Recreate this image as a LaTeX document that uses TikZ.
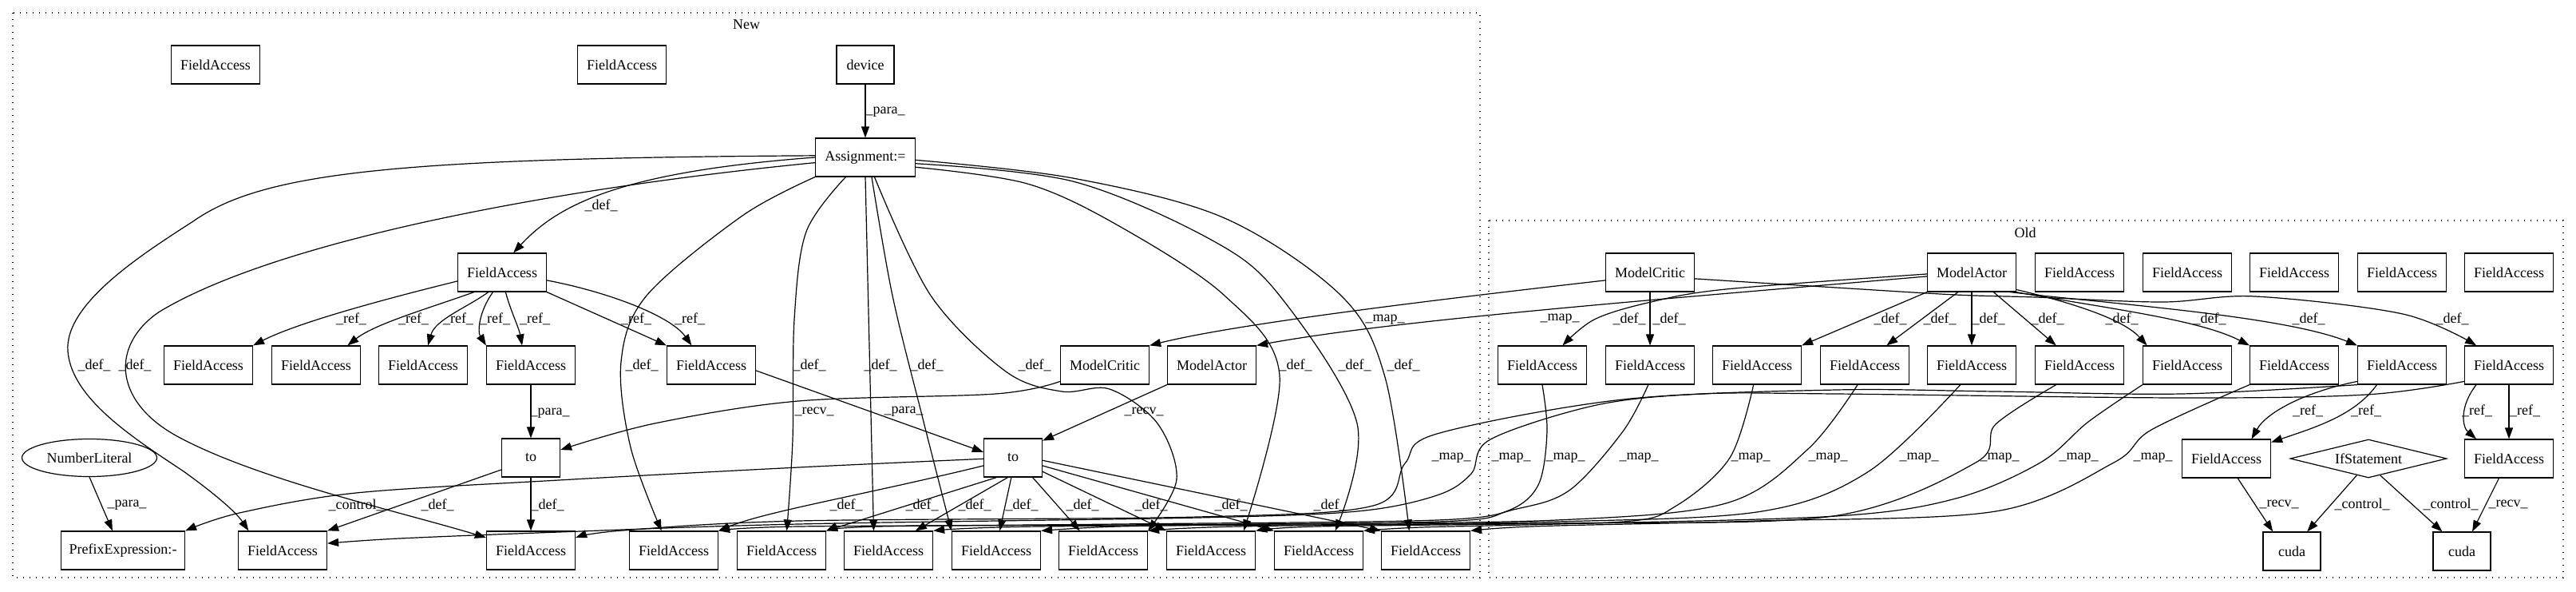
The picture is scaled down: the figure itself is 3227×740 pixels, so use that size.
\documentclass[tikz,border=0pt]{standalone}
\usepackage{fontspec}
\setmainfont{Liberation Serif}
\usetikzlibrary{arrows.meta,shapes.geometric}
\newcommand\gfont{\fontsize{18}{20}\selectfont}
\newcommand\Ldef{\_def\_}
\newcommand\Lref{\_ref\_}
\newcommand\Lmap{\_map\_}
\newcommand\Lpara{\_para\_}
\newcommand\Lrecv{\_recv\_}
\newcommand\Lctrl{\_control\_}
\begin{document}
\begin{tikzpicture}[x=1pt,y=-1pt,
 every node/.style={font=\gfont},
 box/.style={draw,line width=1.2pt,rectangle,minimum width=111pt,minimum height=48pt,inner sep=0pt},
 edg/.style={draw,line width=1.2pt,-{Triangle[length=14pt,width=10pt]}},
 lab/.style={inner sep=0pt},
 clus/.style={draw,line width=1.2pt,dash pattern=on 1.4pt off 6.6pt},
 sm/.style={smooth,tension=0.55}]
\fill[white] (0,0) rectangle (3227,740);
\useasboundingbox (0,0) rectangle (3227,740);
% clusters
\draw[clus] (16,16) rectangle (1854,723);
\node (tnew) at (935,31) {New};
\draw[clus] (1865,276) rectangle (3211,723);
\node (told) at (2537,291) {Old};
% New nodes
\node[box] (nfa1) at (270,81) {FieldAccess};
\node[box] (nfa2) at (779,81) {FieldAccess};
\node[box,minimum width=72pt] (device) at (1084,81) {device};
\node[box,minimum width=125pt] (assign) at (1084,197) {Assignment:=};
\node[box] (hub) at (629,341) {FieldAccess};
\node[box] (r1) at (261,457) {FieldAccess};
\node[box] (r2) at (396,457) {FieldAccess};
\node[box] (r3) at (530,457) {FieldAccess};
\node[box] (r4) at (665,457) {FieldAccess};
\node[box] (r5) at (891,457) {FieldAccess};
\node[box] (mcn) at (1384,457) {ModelCritic};
\node[box] (man) at (1518,457) {ModelActor};
\node[box,minimum width=73pt] (tos) at (665,573) {to};
\node[box,minimum width=73pt] (tob) at (1269,573) {to};
\node[draw,line width=1.2pt,ellipse,minimum width=169pt,minimum height=47pt,inner sep=0pt] (numlit) at (112,573) {NumberLiteral};
\node[box,minimum width=155pt] (prefix) at (154,689) {PrefixExpression:-};
\node[box] (b1) at (354,689) {FieldAccess};
\node[box] (b2) at (665,689) {FieldAccess};
\node[box] (b3) at (844,689) {FieldAccess};
\node[box] (b4) at (979,689) {FieldAccess};
\node[box] (b5) at (1113,689) {FieldAccess};
\node[box] (b6) at (1248,689) {FieldAccess};
\node[box] (b7) at (1382,689) {FieldAccess};
\node[box] (b8) at (1517,689) {FieldAccess};
\node[box] (b9) at (1652,689) {FieldAccess};
\node[box] (b10) at (1786,689) {FieldAccess};
% Old nodes
\node[box] (mco) at (2067,341) {ModelCritic};
\node[box] (mao) at (2470,341) {ModelActor};
\foreach \x [count=\i] in {2605,2740,2874,3009,3143} \node[box] (ot\i) at (\x,341) {FieldAccess};
\foreach \x [count=\i] in {1932,2067,2201,2336,2470,2605,2740,2874,3009,3143} \node[box] (o\i) at (\x,457) {FieldAccess};
\node[box] (ofa3a) at (2789,574) {FieldAccess};
\node[draw,line width=1.2pt,diamond,aspect=4,minimum width=196pt,minimum height=48pt,inner sep=0pt] (ifst) at (2967,574) {IfStatement};
\node[box] (ofa3b) at (3143,574) {FieldAccess};
\node[box,minimum width=72pt] (cuda1) at (2871,690) {cuda};
\node[box,minimum width=72pt] (cuda2) at (3084,690) {cuda};
% New edges
\draw[edg] (device) -- (assign);
\draw[edg] (assign.west) .. controls (780,215) and (700,255) .. (hub.60);
\draw[edg] (assign.178) .. controls (500,198) and (330,215) .. (242,277) .. controls (180,317) and (80,380) .. (85,440) .. controls (90,500) and (170,550) .. (230,590) .. controls (265,615) and (295,640) .. (b1.150);
\draw[edg] (assign.186) .. controls (700,235) and (350,300) .. (200,390) .. controls (140,430) and (140,500) .. (220,545) .. controls (320,600) and (500,640) .. (b2.164);
\draw[edg] plot[sm] coordinates {(assign.south west) (930,270) (810,370) (778,453) (790,560) (b3.122)};
\draw[edg] plot[sm] coordinates {(assign.225) (1010,290) (995,400) (993,550) (b4.75)};
\draw[edg] (assign.south) -- (b5.127);
\draw[edg] plot[sm] coordinates {(assign.288) (1118,370) (1155,520) (b6.north west)};
\draw[edg] plot[sm] coordinates {(assign.295) (1166,370) (1260,465) (1330,490) (1390,487) (1450,530) (1474,600) (b7.north east)};
\draw[edg] plot[sm] coordinates {(assign.349) (1287,230) (1402,283) (1534,370) (1603,470) (b8.31)};
\draw[edg] plot[sm] coordinates {(assign.353) (1344,227) (1517,300) (1603,370) (1700,530) (b9.50)};
\draw[edg] plot[sm] coordinates {(assign.357) (1344,223) (1534,273) (1680,370) (1735,472) (b10.130)};
\draw[edg] (hub.191) .. controls (520,365) and (380,400) .. (r1.north east);
\draw[edg] (hub.215) .. controls (540,385) and (470,405) .. (r2.32);
\draw[edg] (hub.235) .. controls (585,385) and (545,400) .. (r3.76);
\draw[edg] (hub.245) .. controls (600,390) and (598,415) .. (r4.north west);
\draw[edg] (hub.280) .. controls (640,390) and (650,410) .. (r4.114);
\draw[edg] (hub.south east) -- (r5.north west);
\draw[edg] (hub.350) .. controls (760,365) and (840,395) .. (r5.135);
\draw[edg] (r4) -- (tos);
\draw[edg] (r5.353) -- (tob.169);
\draw[edg] plot[sm] coordinates {(mcn.200) (1247,493) (1000,502) (820,530) (tos.15)};
\draw[edg] (man.south west) -- (tob.30);
\draw[edg] (numlit.south) -- (prefix.118);
\draw[edg] (tos.202) -- (b1.north east);
\draw[edg] (tos) -- (b2);
\draw[edg] plot[sm] coordinates {(tob.182) (1000,585) (700,601) (446,617) (300,642) (prefix.north east)};
\draw[edg] (tob.195) .. controls (1080,620) and (960,640) .. (b3.north east);
\draw[edg] (tob.230) -- (b4.north east);
\draw[edg] (tob.255) -- (b5.36);
\draw[edg] (tob.265) -- (b6.80);
\draw[edg] (tob.315) -- (b7.140);
\draw[edg] (tob.335) -- (b8.north west);
\draw[edg] (tob.345) -- (b9.north west);
\draw[edg] (tob.355) -- (b10.north west);
% Old edges
\draw[edg] (mco.190) .. controls (1800,375) and (1550,405) .. (mcn.north east);
\draw[edg] (mao.185) .. controls (2100,373) and (1750,400) .. (man.north east);
\draw[edg] plot[sm] coordinates {(mao.182) (2162,362) (2064,379) (1997,400) (o1.44)};
\draw[edg] (mco) -- (o2);
\draw[edg] (mao.south west) -- (o3.north east);
\draw[edg] (mao.235) -- (o4.42);
\draw[edg] (mao) -- (o5);
\draw[edg] (mao.318) -- (o6.140);
\draw[edg] (mao.339) .. controls (2600,380) and (2660,400) .. (o7.154);
\draw[edg] (mao.336) .. controls (2640,386) and (2755,400) .. (o8.north west);
\draw[edg] (mao.333) .. controls (2640,380) and (2860,395) .. (o9.north west);
\draw[edg] plot[sm] coordinates {(mco.352) (2300,360) (2450,369) (2550,372) (2709,378) (2825,371) (3010,393) (o10.149)};
\draw[edg] (o9.200) .. controls (2890,490) and (2840,515) .. (ofa3a.38);
\draw[edg] (o9.218) .. controls (2950,520) and (2900,535) .. (ofa3a.20);
\draw[edg] (o10.211) .. controls (3080,510) and (3085,535) .. (ofa3b.149);
\draw[edg] (o10) -- (ofa3b);
\draw[edg] (ofa3a.300) -- (cuda1.134);
\draw[edg] (ifst.235) -- (cuda1.52);
\draw[edg] (ifst.305) -- (cuda2.135);
\draw[edg] (ofa3b.243) -- (cuda2.62);
% map edges Old -> New
\draw[edg] plot[sm] coordinates {(o1.south) (1938,540) (1927,607) (1887,640) (1800,653) (1400,657) (1000,659) (b3.north east)};
\draw[edg] plot[sm] coordinates {(o2.265) (2033,540) (1967,613) (1900,637) (1800,651) (1400,656) (1100,659) (b4.north east)};
\draw[edg] plot[sm] coordinates {(o3.260) (2167,573) (2100,633) (2033,653) (1800,656) (1300,659) (b5.north east)};
\draw[edg] plot[sm] coordinates {(o4.250) (2265,562) (2162,630) (1950,651) (1600,656) (1400,659) (b6.north east)};
\draw[edg] plot[sm] coordinates {(o5.240) (2341,590) (2207,640) (1950,653) (1550,659) (b7.north east)};
\draw[edg] plot[sm] coordinates {(o6.220) (2500,531) (2475,579) (2296,646) (1950,655) (1650,659) (b8.north east)};
\draw[edg] plot[sm] coordinates {(o7.south west) (2616,528) (2556,579) (2450,624) (2300,646) (1950,656) (1780,660) (b9.north east)};
\draw[edg] plot[sm] coordinates {(o8.south west) (2695,538) (2648,579) (2500,640) (2200,652) (1950,658) (1880,661) (b10.north east)};
\draw[edg] plot[sm] coordinates {(o9.south west) (2732,493) (2500,490) (2300,488) (2033,500) (1800,543) (1760,580) (1720,633) (1500,647) (1000,652) (780,664) (b2.16)};
\draw[edg] plot[sm] coordinates {(o10.200) (2964,494) (2732,498) (2300,493) (2133,493) (2000,507) (1867,550) (1843,593) (1800,620) (1700,640) (1500,648) (1000,656) (700,666) (500,674) (b1.9)};
% labels
\foreach \x/\y/\t [count=\i] in {
 1109/140/\Lpara, 753/257/\Ldef,
 118/457/\Ldef, 169/457/\Ldef, 804/457/\Ldef, 1014/457/\Ldef, 1103/457/\Ldef, 1161/457/\Ldef, 1296/457/\Ldef, 1623/457/\Ldef, 1697/457/\Ldef, 1758/457/\Ldef,
 440/399/\Lref, 518/399/\Lref, 574/399/\Lref, 620/399/\Lref, 670/399/\Lref, 797/399/\Lref, 864/399/\Lref,
 689/517/\Lpara, 1132/515/\Lpara, 1020/515/\Lrecv, 1433/515/\Lrecv,
 159/632/\Lpara, 446/632/\Lctrl, 548/632/\Ldef, 686/632/\Ldef,
 1060/632/\Ldef, 1155/632/\Ldef, 1221/632/\Ldef, 1280/632/\Ldef, 1356/632/\Ldef, 1442/632/\Ldef, 1542/632/\Ldef, 1666/632/\Ldef,
 1735/400/\Lmap, 1954/399/\Lmap,
 2041/399/\Ldef, 2091/399/\Ldef, 2368/399/\Ldef, 2430/399/\Ldef, 2491/399/\Ldef, 2565/399/\Ldef, 2658/399/\Ldef, 2768/399/\Ldef, 2892/399/\Ldef, 3072/399/\Ldef,
 2891/514/\Lref, 2964/514/\Lref, 3103/514/\Lref, 3163/514/\Lref,
 1818/573/\Lmap, 1893/573/\Lmap, 1961/573/\Lmap, 2053/573/\Lmap, 2193/573/\Lmap, 2290/573/\Lmap, 2404/573/\Lmap, 2505/573/\Lmap, 2604/573/\Lmap, 2697/573/\Lmap,
 2855/631/\Lrecv, 2959/631/\Lctrl, 3070/631/\Lctrl, 3142/631/\Lrecv}
 \node[lab] (lab\i) at (\x,\y) {\t};
\end{tikzpicture}
\end{document}
